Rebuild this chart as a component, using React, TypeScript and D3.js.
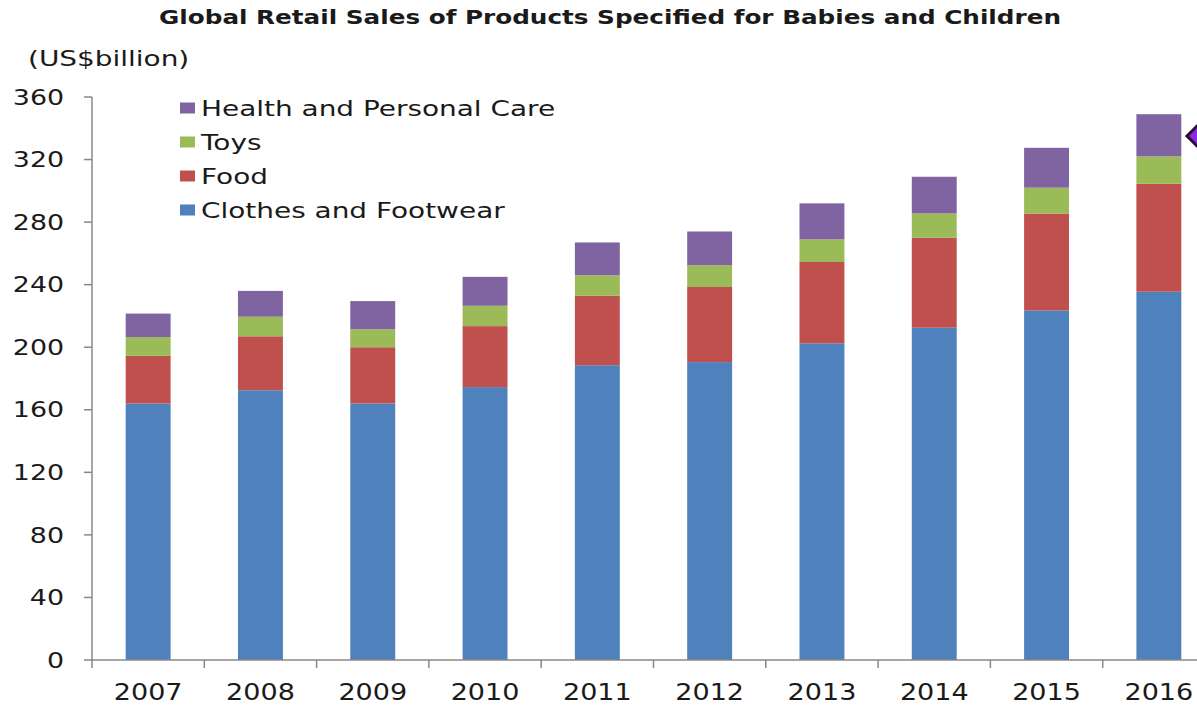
import React from "react";
import * as d3 from "d3";

const years = ["2007", "2008", "2009", "2010", "2011", "2012", "2013", "2014", "2015", "2016"];
const clothes = [164, 172.5, 164, 174.5, 188.5, 190.5, 202.5, 212.5, 223.5, 235.5];
const food = [30.5, 34.5, 36, 39, 44.5, 48, 52, 57.5, 62, 69];
const toys = [12, 12.5, 11.5, 13, 13, 14, 14.5, 15.5, 16.5, 17.5];
const health = [15, 16.5, 18, 18.5, 21, 21.5, 23, 23.5, 25.5, 27];
const yTicks = [0, 40, 80, 120, 160, 200, 240, 280, 320, 360];
const seriesNames = ["Clothes and Footwear", "Food", "Toys", "Health and Personal Care"];
const colors = ["#4F81BD", "#C0504D", "#9BBB59", "#8064A2"];

const W = 1197;
const H = 705;
const FONT = "'DejaVu Sans', Verdana, sans-serif";

function SText({
  x,
  y,
  sx,
  children,
  anchor = "start",
  size,
  weight = "normal",
  dy,
}: any) {
  return (
    <text
      transform={`translate(${x},${y}) scale(${sx},1)`}
      textAnchor={anchor}
      fontFamily={FONT}
      fontSize={size}
      fontWeight={weight}
      dy={dy}
      fill="#1a1a1a"
    >
      {children}
    </text>
  );
}

export default function App() {
  const x = d3
    .scaleBand<string>()
    .domain(years)
    .range([92, 92 + 112.3 * 10])
    .paddingInner(0.6)
    .paddingOuter(0.3);
  const y = d3.scaleLinear().domain([0, 360]).range([660, 97]);

  const rows = years.map((yr, i) => ({
    year: yr,
    c0: clothes[i],
    c1: food[i],
    c2: toys[i],
    c3: health[i],
  }));
  const stack = d3.stack<any>().keys(["c0", "c1", "c2", "c3"]);
  const layers = stack(rows);

  const step = x.step();
  const half = (step * x.paddingInner()) / 2;

  const legendOrder = [3, 2, 1, 0];

  return (
    <div style={{ position: "absolute", left: 0, top: 0 }}>
      <svg width={W} height={H} style={{ display: "block", background: "#fff" }}>
        <SText x={610} y={24} sx={1.3} anchor="middle" size={19} weight="bold">
          Global Retail Sales of Products Specified for Babies and Children
        </SText>
        <SText x={28} y={66} sx={1.27} size={22}>
          (US$billion)
        </SText>

        {/* bars */}
        {layers.map((layer, li) => (
          <g key={li} fill={colors[li]}>
            {layer.map((d: any, i: number) => (
              <rect
                key={i}
                x={x(years[i])}
                y={y(d[1])}
                width={x.bandwidth()}
                height={y(d[0]) - y(d[1])}
              />
            ))}
          </g>
        ))}

        {/* y axis */}
        <line x1={92} x2={92} y1={y(360)} y2={y(0)} stroke="#888" strokeWidth={1.5} />
        {yTicks.map((t) => (
          <g key={t}>
            <line x1={84} x2={92} y1={y(t)} y2={y(t)} stroke="#888" strokeWidth={1.5} />
            <SText x={64} y={y(t)} sx={1.22} anchor="end" size={22} dy="0.35em">
              {t}
            </SText>
          </g>
        ))}

        {/* x axis */}
        <line x1={92} x2={W} y1={y(0)} y2={y(0)} stroke="#888" strokeWidth={1.5} />
        {years.map((yr) => (
          <g key={yr}>
            <line
              x1={(x(yr) as number) - half}
              x2={(x(yr) as number) - half}
              y1={y(0)}
              y2={y(0) + 8}
              stroke="#888"
              strokeWidth={1.5}
            />
            <SText
              x={(x(yr) as number) + x.bandwidth() / 2}
              y={700}
              sx={1.15}
              anchor="middle"
              size={23.5}
            >
              {yr}
            </SText>
          </g>
        ))}

        {/* legend */}
        {legendOrder.map((si, k) => (
          <g key={si} transform={`translate(180, ${108 + k * 34})`}>
            <rect x={0} y={-5.5} width={15} height={11} fill={colors[si]} />
            <SText x={21} y={0} sx={1.27} size={22} dy="0.35em">
              {seriesNames[si]}
            </SText>
          </g>
        ))}

        {/* marker at right edge */}
        <polygon
          points="1187,136 1200,123 1213,136 1200,149"
          fill="#8A2BE2"
          stroke="#2a1030"
          strokeWidth={3}
        />
      </svg>
    </div>
  );
}
